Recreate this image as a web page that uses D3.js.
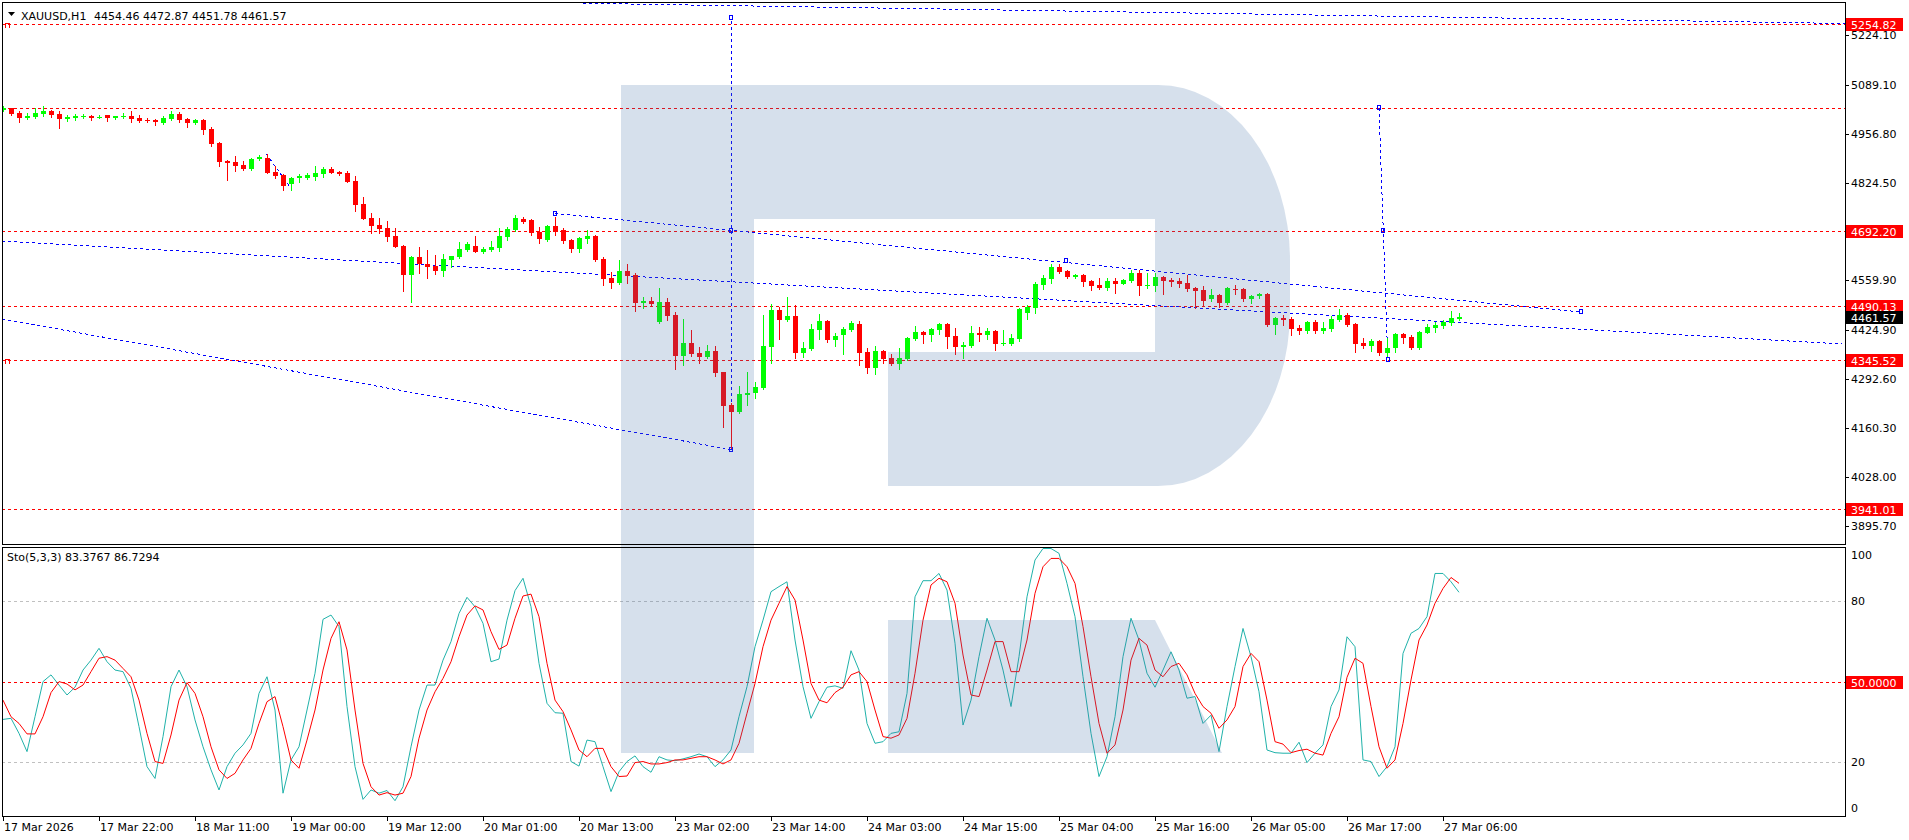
<!DOCTYPE html>
<html>
<head>
<meta charset="utf-8">
<script src="https://cdn.jsdelivr.net/npm/d3@7"></script>
<style>
html, body { margin: 0; padding: 0; background: #fff; }
svg { display: block; font-family: "DejaVu Sans", sans-serif; font-size: 11px; }
</style>
</head>
<body>
<svg id="chart" width="1909" height="840"></svg>
<script>
// XAUUSD H1 bars, 17 Mar 2026 10:00 .. 27 Mar 2026 08:00
var opens = [
5022.0,5025.6,5013.0,4999.4,5003.0,5011.2,5018.4,5010.3,4997.6,5000.3,
5003.0,5005.8,5001.2,5007.6,5000.3,5003.0,5005.8,5000.3,4994.9,4994.9,
4986.8,4997.6,5011.2,4997.6,4986.8,4994.9,4970.6,4932.7,4883.9,4880.3,
4872.2,4861.4,4888.4,4891.2,4853.3,4845.1,4821.7,4836.1,4837.9,4839.7,
4847.8,4861.4,4853.3,4850.5,4828.9,4766.6,4728.7,4709.8,4701.6,4680.0,
4652.9,4575.3,4623.1,4604.2,4598.8,4586.2,4615.9,4623.1,4642.1,4652.9,
4636.7,4643.0,4647.5,4677.3,4696.2,4726.0,4723.3,4691.7,4669.2,4708.0,
4696.2,4670.1,4644.8,4671.9,4680.9,4617.7,4566.3,4552.8,4585.2,4574.4,
4499.5,4504.9,4448.1,4501.3,4466.1,4355.1,4390.3,4363.3,4352.4,4368.7,
4311.8,4222.5,4204.4,4250.5,4255.9,4269.4,4379.5,4479.7,4453.5,4463.4,
4364.2,4374.1,4426.4,4449.9,4398.4,4412.0,4425.5,4441.8,4366.0,4323.6,
4368.7,4349.7,4334.4,4347.0,4401.1,4420.1,4412.9,4425.5,4441.8,4409.3,
4379.5,4382.2,4417.4,4412.0,4422.9,4387.7,4388.6,4401.2,4471.6,4485.1,
4547.4,4563.6,4596.1,4585.3,4569.9,4574.5,4558.2,4547.4,4539.3,4558.2,
4551.0,4558.2,4579.9,4545.6,4545.6,4569.0,4560.9,4559.1,4552.8,4539.3,
4534.7,4509.5,4520.3,4498.7,4536.6,4536.6,4509.5,4518.5,4523.0,4440.0,
4458.0,4455.3,4431.9,4423.8,4447.2,4423.8,4429.2,4453.5,4466.2,4441.8,
4390.4,4383.2,4395.8,4364.2,4377.7,4414.7,4406.6,4377.7,4418.3,4431.9,
4437.3,4444.5,4454.46];
var highs = [
5031.9,5027.4,5018.4,5012.1,5025.6,5031.9,5021.1,5018.4,5007.6,5011.2,
5011.2,5008.5,5008.5,5008.5,5005.8,5013.0,5019.3,5007.6,5000.3,4996.0,
5005.8,5018.4,5015.7,5000.3,4996.7,4996.0,4975.1,4935.4,4885.7,4897.5,
4883.0,4892.1,4899.3,4902.0,4869.5,4848.7,4840.6,4846.9,4850.5,4870.4,
4865.9,4866.8,4856.0,4856.0,4842.4,4785.6,4742.3,4728.7,4720.6,4700.7,
4654.7,4625.0,4650.2,4642.1,4628.6,4631.3,4627.0,4663.8,4663.8,4680.0,
4650.2,4666.5,4701.6,4704.4,4736.8,4731.4,4726.0,4704.4,4709.8,4731.4,
4701.6,4671.9,4678.2,4696.2,4683.6,4624.0,4583.4,4615.0,4604.2,4579.8,
4515.8,4515.8,4539.2,4512.1,4474.2,4455.3,4425.5,4379.5,4384.9,4382.2,
4313.0,4228.8,4273.9,4311.8,4284.7,4466.1,4495.9,4486.9,4514.9,4492.3,
4393.0,4441.8,4468.8,4452.6,4417.4,4433.6,4449.9,4449.9,4376.8,4382.2,
4371.4,4360.5,4376.8,4406.6,4436.3,4422.8,4431.8,4444.5,4443.6,4430.9,
4393.1,4436.4,4433.7,4431.0,4425.6,4425.6,4414.7,4485.1,4493.2,4555.5,
4574.4,4604.2,4604.2,4588.0,4577.2,4576.3,4560.0,4566.3,4566.3,4566.3,
4563.6,4588.0,4588.0,4579.9,4580.8,4571.7,4566.3,4566.3,4574.5,4542.0,
4545.6,4536.6,4523.0,4542.0,4547.4,4539.3,4520.3,4526.6,4525.7,4460.8,
4466.2,4460.8,4439.1,4449.9,4452.6,4447.2,4463.5,4482.4,4471.6,4444.5,
4403.9,4401.2,4398.5,4403.9,4417.4,4417.4,4412.0,4422.9,4441.8,4447.2,
4452.6,4477.0,4472.87];
var lows = [
5018.4,5008.5,4989.5,4997.6,5000.3,5005.8,5003.0,4973.3,4992.2,4994.9,
4999.4,4994.9,4998.5,4992.2,4997.6,4998.5,4989.5,4989.5,4987.7,4981.4,
4984.1,4994.9,4989.5,4976.0,4984.1,4956.1,4923.6,4870.4,4832.5,4856.9,
4858.7,4859.6,4884.8,4850.0,4837.0,4805.4,4805.4,4827.1,4834.3,4831.6,
4839.7,4850.5,4846.0,4825.5,4748.6,4725.0,4687.2,4689.0,4667.4,4649.5,
4532.0,4502.2,4580.7,4567.2,4578.0,4572.6,4596.1,4621.5,4639.4,4636.0,
4634.0,4640.3,4639.4,4670.1,4693.5,4715.2,4682.7,4661.9,4667.4,4682.7,
4661.9,4636.7,4636.7,4661.9,4612.3,4547.3,4539.2,4550.1,4552.8,4477.9,
4486.0,4492.3,4445.4,4453.5,4320.8,4331.7,4355.1,4337.1,4349.7,4301.9,
4163.8,4107.0,4201.7,4222.5,4242.3,4266.7,4337.1,4401.1,4450.8,4349.7,
4352.4,4371.4,4401.1,4393.0,4382.2,4360.5,4422.8,4330.8,4310.0,4306.4,
4336.2,4330.8,4320.8,4344.3,4398.4,4390.3,4395.7,4414.7,4376.8,4361.4,
4349.8,4379.5,4395.8,4401.2,4371.4,4385.0,4385.9,4395.8,4455.3,4471.6,
4536.5,4552.8,4579.9,4566.3,4567.2,4545.6,4533.8,4536.6,4534.8,4526.6,
4550.1,4555.5,4520.3,4540.2,4532.0,4523.9,4545.6,4542.9,4531.1,4485.1,
4491.4,4504.1,4488.7,4495.9,4523.0,4504.1,4498.7,4513.1,4437.3,4415.6,
4440.0,4412.9,4415.6,4418.3,4418.3,4418.3,4422.9,4450.8,4436.4,4366.9,
4377.7,4368.7,4358.8,4355.2,4366.9,4391.3,4375.0,4375.0,4417.4,4421.1,
4431.9,4439.1,4451.78];
var closes = [
5027.4,5011.2,5000.3,5004.9,5013.0,5018.4,5008.5,4997.6,5003.0,5005.8,
5005.8,5000.3,5003.0,5000.3,5004.9,5005.8,4997.6,4992.2,4992.2,4987.7,
5000.3,5011.2,4994.9,4986.8,4994.9,4967.9,4929.0,4881.2,4878.5,4869.5,
4861.4,4889.3,4893.9,4851.5,4842.4,4816.3,4837.0,4842.4,4844.2,4850.5,
4862.3,4851.5,4848.7,4827.1,4764.8,4726.9,4708.0,4699.8,4678.2,4651.1,
4575.3,4623.1,4603.3,4597.0,4586.2,4617.7,4625.9,4644.8,4658.3,4637.6,
4644.8,4650.2,4680.0,4698.9,4728.7,4718.8,4689.0,4671.0,4708.0,4691.7,
4667.4,4645.7,4674.6,4680.0,4615.0,4564.5,4552.8,4585.2,4571.7,4499.5,
4504.9,4496.8,4501.3,4464.3,4355.1,4390.3,4360.5,4352.4,4368.7,4310.0,
4220.7,4204.4,4252.3,4255.9,4271.2,4382.2,4479.7,4453.5,4463.4,4364.2,
4376.8,4428.2,4449.9,4398.4,4409.3,4428.2,4444.5,4364.2,4323.6,4368.7,
4347.0,4334.4,4349.7,4403.9,4420.1,4412.0,4428.2,4441.8,4406.6,4379.5,
4384.9,4417.4,4412.0,4422.9,4387.7,4390.4,4403.9,4482.4,4487.8,4550.1,
4566.3,4596.1,4582.6,4569.0,4575.4,4556.4,4545.6,4539.3,4558.2,4551.0,
4560.9,4579.9,4545.6,4547.4,4569.0,4559.1,4556.4,4551.0,4536.6,4532.0,
4504.1,4520.3,4498.7,4539.3,4534.8,4509.5,4517.6,4523.9,4440.0,4458.0,
4452.6,4429.2,4423.8,4447.2,4423.8,4431.0,4455.3,4466.2,4439.1,4388.6,
4383.2,4395.8,4364.2,4376.8,4414.7,4404.8,4377.7,4420.1,4433.7,4439.1,
4447.2,4458.0,4461.57];

// Stochastic(5,3,3): main (%K) and signal (%D)
var stochK = [
36.0,36.4,30.8,24.0,37.0,50.1,52.6,48.8,45.1,48.0,
54.4,58.1,62.5,57.5,54.4,53.8,47.6,33.3,18.4,14.0,
29.6,48.2,54.4,48.2,35.8,25.8,17.2,9.7,18.4,23.4,
26.5,30.8,45.7,51.9,39.5,8.5,20.9,25.8,39.5,53.2,
73.3,74.9,70.6,40.8,18.4,6.2,9.7,8.5,9.5,5.7,
10.9,25.8,39.5,48.8,48.8,58.1,65.0,75.5,81.5,78.0,
71.8,57.5,58.5,73.0,84.0,88.6,78.0,56.9,42.0,38.5,
38.3,20.3,18.6,28.3,27.7,18.4,9.1,16.5,20.3,22.4,
18.4,16.3,22.1,20.9,20.6,21.3,22.1,23.1,22.1,18.4,
20.9,24.6,37.0,48.2,63.1,73.0,83.6,85.5,87.3,65.6,
48.2,36.4,42.6,48.0,48.5,47.6,61.6,54.4,34.5,27.1,
27.7,30.8,31.4,45.7,81.7,87.7,87.7,90.4,84.2,64.4,
33.9,43.2,59.4,73.7,65.6,54.4,40.8,59.4,81.7,95.4,
99.7,99.7,97.9,86.7,74.3,51.9,30.8,14.7,22.1,37.0,
59.4,73.7,65.6,53.2,48.0,54.4,61.2,54.4,43.9,44.5,
34.5,37.6,24.0,40.8,55.7,69.9,59.4,46.3,24.6,23.6,
23.4,23.4,27.5,19.9,23.4,26.5,40.8,47.0,66.8,63.1,
20.9,20.3,14.7,18.4,25.8,60.6,68.1,69.9,74.3,90.4,
90.4,87.3,83.3767];
var stochD = [
43.2,37.0,34.5,30.6,30.6,37.0,46.0,50.1,49.2,47.0,
48.8,53.8,58.8,59.4,58.1,55.0,51.9,43.2,30.8,20.3,
19.6,30.2,43.2,49.7,45.7,37.0,25.8,17.2,14.0,15.9,
20.9,25.2,34.5,42.6,44.5,33.3,20.9,17.8,28.3,39.5,
54.4,66.2,72.4,61.9,39.5,19.6,10.9,7.8,8.7,7.8,
8.5,14.7,29.0,39.5,46.3,51.3,57.5,66.8,74.9,78.3,
76.8,68.7,62.1,63.7,73.7,82.0,82.7,74.3,56.9,43.2,
38.9,32.1,24.6,22.1,25.2,25.2,18.4,14.7,14.9,19.9,
20.3,19.4,19.4,19.9,20.9,20.9,21.5,22.1,22.1,20.9,
19.4,20.9,27.1,38.3,49.4,63.1,73.0,79.3,85.5,80.5,
65.6,49.4,43.2,42.2,46.0,48.0,52.6,53.8,50.1,39.5,
29.6,29.0,30.2,36.4,53.2,73.0,86.1,88.6,87.3,79.3,
60.0,45.1,44.5,54.4,65.0,65.0,53.8,53.8,65.6,83.0,
92.9,96.0,96.0,92.9,86.7,70.6,51.9,34.5,23.4,26.5,
39.5,58.1,66.2,63.7,54.4,51.9,55.7,56.9,52.6,45.7,
40.8,38.3,32.7,35.8,40.8,55.7,60.6,57.5,43.2,27.7,
26.8,23.6,24.4,24.9,23.4,22.7,30.8,37.0,51.7,58.8,
56.9,40.8,25.8,17.8,20.9,34.5,50.7,65.6,71.2,79.3,
84.8,88.9,86.7294];

// one time label every 12 bars
var timeLabels = ["17 Mar 2026", "17 Mar 22:00", "18 Mar 11:00", "19 Mar 00:00", "19 Mar 12:00",
  "20 Mar 01:00", "20 Mar 13:00", "23 Mar 02:00", "23 Mar 14:00", "24 Mar 03:00", "24 Mar 15:00",
  "25 Mar 04:00", "25 Mar 16:00", "26 Mar 05:00", "26 Mar 17:00", "27 Mar 06:00"];
var priceTicks = [5224.10, 5089.10, 4956.80, 4824.50, 4559.90, 4424.90, 4292.60, 4160.30, 4028.00, 3895.70];
var levels = [5254.82, 5025.6, 4692.20, 4490.13, 4345.52, 3941.01];
var levelLabelled = [true, false, true, true, true, true];
var stochTicks = [100, 80, 20, 0];
var stochLevels = [80, 50, 20];
// trend lines as [bar, price] pairs
var trendLines = [
  [[72.5, 5310.0], [230.25, 5255.3]],
  [[69.0, 4740.9], [197.25, 4474.3]],
  [[-0.125, 4666.5], [229.9, 4387.7]],
  [[-0.125, 4455.3], [91.0, 4102.0]],
  [[91.0, 4102.0], [91.0, 5269.4]],
  [[172.0, 5026.5], [173.1, 4344.3]],
  [[32.9, 4902.0], [35.9, 4812.6]]
];
// anchor points of the drawn objects
var anchors = [[69.0, 4740.9], [132.9, 4612.3], [197.25, 4474.3], [91.0, 5269.4], [91.0, 4692.2],
  [91.0, 4102.0], [172.0, 5026.5], [172.5, 4692.2], [173.1, 4344.3]];

var svg = d3.select("#chart");
var left = 2, right = 1845, mainTop = 2, mainBottom = 544, subTop = 547, subBottom = 816;

var x = d3.scaleLinear().domain([0, 230]).range([3, 1843]);
var y = d3.scaleLinear().domain([3846.2, 5313.5]).range([mainBottom, mainTop]);
var ys = d3.scaleLinear().domain([0, 100]).range([subBottom, 547.7]);
var px = function (v) { return Math.round(v) + 0.5; };

svg.append("rect").attr("width", 1909).attr("height", 840).attr("fill", "#fff");

var defs = svg.append("defs");
defs.append("clipPath").attr("id", "clipMain").append("rect")
    .attr("x", left).attr("y", mainTop).attr("width", right - left).attr("height", mainBottom - mainTop);
defs.append("clipPath").attr("id", "clipSub").append("rect")
    .attr("x", left).attr("y", subTop).attr("width", right - left).attr("height", subBottom - subTop);

var main = svg.append("g").attr("clip-path", "url(#clipMain)");
var sub = svg.append("g").attr("clip-path", "url(#clipSub)");

// horizontal levels
main.selectAll(".lvl").data(levels).enter().append("line")
    .attr("x1", left).attr("x2", right)
    .attr("y1", function (d) { return px(y(d)); })
    .attr("y2", function (d) { return px(y(d)); })
    .attr("stroke", "#ff0000").attr("stroke-dasharray", "3,3")
    .attr("shape-rendering", "crispEdges");
// small hooks at the ends of the labelled levels
main.selectAll(".hook").data([levels[0], levels[4]]).enter().append("path")
    .attr("d", function (d) { var yy = px(y(d)); return "M5.5," + (yy + 3) + " V" + (yy - 1) + " H9.5 V" + (yy + 3); })
    .attr("fill", "none").attr("stroke", "#ff0000").attr("shape-rendering", "crispEdges");

// trend lines
main.selectAll(".trend").data(trendLines).enter().append("line")
    .attr("x1", function (d) { return x(d[0][0]); })
    .attr("y1", function (d) { return y(d[0][1]); })
    .attr("x2", function (d) { return x(d[1][0]); })
    .attr("y2", function (d) { return y(d[1][1]); })
    .attr("stroke", "#0000ff").attr("stroke-dasharray", "3,3")
    .attr("shape-rendering", "crispEdges");
main.selectAll(".anchor").data(anchors).enter().append("rect")
    .attr("x", function (d) { return Math.round(x(d[0])) - 1.5; })
    .attr("y", function (d) { return Math.round(y(d[1])) - 2.5; })
    .attr("width", 3).attr("height", 4)
    .attr("fill", "none").attr("stroke", "#0000ff").attr("shape-rendering", "crispEdges");

// candles
var bars = d3.range(opens.length);
var colour = function (i) { return closes[i] >= opens[i] ? "#00ff00" : "#ff0000"; };
main.selectAll(".wick").data(bars).enter().append("line")
    .attr("x1", function (i) { return px(x(i)); })
    .attr("x2", function (i) { return px(x(i)); })
    .attr("y1", function (i) { return Math.round(y(highs[i])); })
    .attr("y2", function (i) { return Math.round(y(lows[i])) + 1; })
    .attr("stroke", colour).attr("shape-rendering", "crispEdges");
main.selectAll(".body").data(bars).enter().append("rect")
    .attr("x", function (i) { return Math.round(x(i)) - 2; })
    .attr("width", 5)
    .attr("y", function (i) { return Math.round(y(Math.max(opens[i], closes[i]))); })
    .attr("height", function (i) {
        return Math.max(1, Math.round(y(Math.min(opens[i], closes[i]))) - Math.round(y(Math.max(opens[i], closes[i]))));
    })
    .attr("fill", colour).attr("shape-rendering", "crispEdges");

// stochastic panel
sub.selectAll(".slvl").data(stochLevels).enter().append("line")
    .attr("x1", left).attr("x2", right)
    .attr("y1", function (d) { return px(ys(d)); })
    .attr("y2", function (d) { return px(ys(d)); })
    .attr("stroke", function (d) { return d === 50 ? "#ff0000" : "#c0c0c0"; })
    .attr("stroke-dasharray", "3,3").attr("shape-rendering", "crispEdges");

var kLine = d3.line().x(function (d, i) { return x(i); }).y(function (d) { return ys(d); });
sub.append("path").datum(stochK).attr("d", kLine).attr("fill", "none").attr("stroke", "#20b2aa").attr("stroke-width", 1);
sub.append("path").datum(stochD).attr("d", kLine).attr("fill", "none").attr("stroke", "#ff0000").attr("stroke-width", 1);

// watermark logo (drawn over the chart, semi transparent)
svg.append("path")
    .attr("d", "M621,85 H1158 A132,175 0 0 1 1290,260 V311 A132,175 0 0 1 1158,486 H888 V352 H1155 V219 H754 V753 H621 Z" +
               " M888,620 H1155 L1222,753 H888 Z")
    .attr("fill", "rgb(68,113,168)").attr("fill-opacity", 0.22);

// frames
var frame = svg.append("g").attr("fill", "none").attr("stroke", "#000").attr("shape-rendering", "crispEdges");
frame.append("rect").attr("x", left + 0.5).attr("y", mainTop + 0.5).attr("width", right - left).attr("height", mainBottom - mainTop);
frame.append("rect").attr("x", left + 0.5).attr("y", subTop + 0.5).attr("width", right - left).attr("height", subBottom - subTop);

// price axis
var axis = svg.append("g");
axis.selectAll(".ptick").data(priceTicks).enter().append("line")
    .attr("x1", right).attr("x2", right + 4)
    .attr("y1", function (d) { return px(y(d)); })
    .attr("y2", function (d) { return px(y(d)); })
    .attr("stroke", "#000").attr("shape-rendering", "crispEdges");
axis.selectAll(".plabel").data(priceTicks).enter().append("text")
    .attr("x", right + 6).attr("y", function (d) { return Math.round(y(d)) + 4; })
    .attr("fill", "#000").text(function (d) { return d.toFixed(2); });

var lvlData = levels.filter(function (d, i) { return levelLabelled[i]; });
var lvlG = axis.selectAll(".lvlLabel").data(lvlData).enter().append("g")
    .attr("transform", function (d) { return "translate(" + (right + 1) + "," + Math.round(y(d)) + ")"; });
lvlG.append("rect").attr("x", 0).attr("y", -6).attr("width", 57).attr("height", 13).attr("fill", "#ff0000");
lvlG.append("text").attr("x", 5).attr("y", 5).attr("fill", "#fff").text(function (d) { return d.toFixed(2); });

var last = closes.length - 1;
var cur = axis.append("g").attr("transform", "translate(" + (right + 1) + "," + Math.round(y(closes[last])) + ")");
cur.append("rect").attr("x", 0).attr("y", -6).attr("width", 57).attr("height", 13).attr("fill", "#000");
cur.append("text").attr("x", 5).attr("y", 5).attr("fill", "#fff").text(closes[last].toFixed(2));

// stochastic axis
axis.selectAll(".stick").data(stochTicks).enter().append("text")
    .attr("x", right + 6)
    .attr("y", function (d) { return Math.min(808, Math.max(555, Math.round(ys(d)))) + 4; })
    .attr("fill", "#000").text(function (d) { return d; });
var fifty = axis.append("g").attr("transform", "translate(" + (right + 1) + "," + Math.round(ys(50)) + ")");
fifty.append("rect").attr("x", 0).attr("y", -6).attr("width", 57).attr("height", 13).attr("fill", "#ff0000");
fifty.append("text").attr("x", 5).attr("y", 5).attr("fill", "#fff").text("50.0000");

// time axis
var tg = svg.append("g");
tg.selectAll(".ttick").data(timeLabels).enter().append("line")
    .attr("x1", function (d, k) { return px(x(k * 12)); })
    .attr("x2", function (d, k) { return px(x(k * 12)); })
    .attr("y1", subBottom).attr("y2", subBottom + 5)
    .attr("stroke", "#000").attr("shape-rendering", "crispEdges");
tg.selectAll(".tlabel").data(timeLabels).enter().append("text")
    .attr("x", function (d, k) { return Math.round(x(k * 12)) + 1; })
    .attr("y", 831).attr("fill", "#000").text(function (d) { return d; });

// header texts
svg.append("path").attr("d", "M8,12 L15,12 L11.5,16 Z").attr("fill", "#000");
svg.append("text").attr("x", 21).attr("y", 20).attr("fill", "#000").text("XAUUSD,H1");
svg.append("text").attr("x", 94).attr("y", 20).attr("fill", "#000")
    .text([opens[last], highs[last], lows[last], closes[last]].map(function (v) { return v.toFixed(2); }).join(" "));
svg.append("text").attr("x", 7).attr("y", 561).attr("fill", "#000")
    .text("Sto(5,3,3) " + stochK[last].toFixed(4) + " " + stochD[last].toFixed(4));
</script>
</body>
</html>
